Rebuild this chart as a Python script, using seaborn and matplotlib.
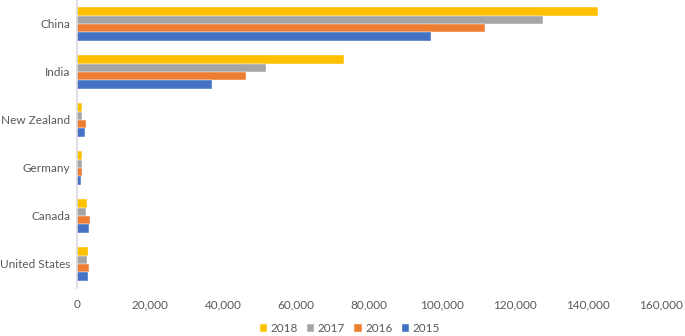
import pandas as pd
import matplotlib.pyplot as plt
import seaborn as sns
from matplotlib.ticker import FuncFormatter

# values
countries = ["China", "India", "New Zealand", "Germany", "Canada", "United States"]
years = ["2018", "2017", "2016", "2015"]
v2018 = [142700, 73200, 1500, 1400, 2800, 3000]
v2017 = [127800, 51900, 1400, 1400, 2600, 2700]
v2016 = [111900, 46200, 2600, 1400, 3700, 3200]
v2015 = [97000, 37000, 2300, 1200, 3300, 3000]
colors = ["#FFC000", "#A5A5A5", "#ED7D31", "#4472C4"]

rows = []
for year, vals in zip(years, [v2018, v2017, v2016, v2015]):
    for c, v in zip(countries, vals):
        rows.append({"country": c, "year": year, "value": v})
df = pd.DataFrame(rows)

sns.set_style("white")
plt.rcParams["font.family"] = ["Lato", "DejaVu Sans"]

fig = plt.figure(figsize=(6.85, 3.36), dpi=100)
ax = fig.add_axes([0.1124, 0.143, 0.8526, 0.857])

sns.barplot(data=df, x="value", y="country", hue="year", hue_order=years,
            order=countries, palette=colors, saturation=1, orient="h", width=0.7,
            edgecolor="#FFFFFF", linewidth=0.3, ax=ax)

ax.set_xlim(0, 160000)
ax.set_xticks(range(0, 160001, 20000))
ax.xaxis.set_major_formatter(FuncFormatter(lambda v, p: f"{int(v):,}"))
ax.set_xlabel("")
ax.set_ylabel("")
ax.tick_params(axis="both", length=0, labelsize=8.5, labelcolor="#595959")
ax.tick_params(axis="x", pad=8)
ax.tick_params(axis="y", pad=5)

for s in ["top", "right", "bottom"]:
    ax.spines[s].set_visible(False)
ax.spines["left"].set_color("#D9D9D9")
ax.spines["left"].set_linewidth(1.2)

ax.legend(loc="upper center", bbox_to_anchor=(0.467, -0.085), ncol=4,
          frameon=False, fontsize=8.5, handlelength=0.6, handleheight=0.6,
          handletextpad=0.3, columnspacing=0.8, labelcolor="#595959")

fig.savefig("out.png", dpi=100)
